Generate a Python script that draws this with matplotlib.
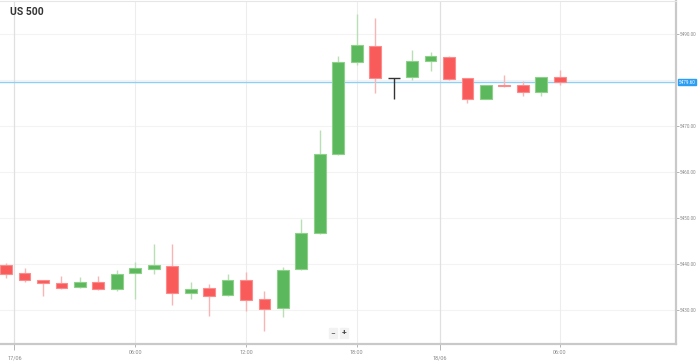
import matplotlib
matplotlib.use("Agg")
import matplotlib.pyplot as plt
import matplotlib.transforms as mtransforms

# ---- data (hourly candles, index 0 = 23:00 on 16/06) ----
opens  = [5439.8, 5437.9, 5436.4, 5435.7, 5434.9, 5436.1, 5434.4, 5437.9, 5438.9, 5439.6,
          5433.7, 5434.7, 5433.2, 5436.4, 5432.4, 5430.4, 5438.8, 5446.6, 5464.0, 5484.0,
          5487.5, 5480.4, 5480.7, 5484.2, 5485.0, 5480.5, 5476.0, 5479.0, 5479.0, 5477.5,
          5480.8]
highs  = [5440.2, 5439.0, 5436.5, 5437.4, 5437.2, 5437.4, 5438.6, 5440.3, 5444.3, 5444.2,
          5436.0, 5435.6, 5437.8, 5438.3, 5434.0, 5439.3, 5449.7, 5469.2, 5485.2, 5494.5,
          5493.7, 5480.5, 5486.6, 5486.1, 5485.4, 5480.5, 5478.9, 5481.2, 5479.8, 5480.7,
          5482.2]
lows   = [5436.9, 5436.0, 5433.0, 5434.4, 5434.7, 5434.3, 5434.0, 5432.4, 5437.8, 5431.0,
          5432.4, 5428.6, 5433.0, 5429.6, 5425.4, 5428.4, 5438.6, 5446.4, 5463.8, 5483.3,
          5477.2, 5475.9, 5480.0, 5482.0, 5480.0, 5475.0, 5475.9, 5478.6, 5476.6, 5476.5,
          5479.0]
closes = [5437.7, 5436.5, 5435.8, 5434.8, 5436.0, 5434.4, 5437.8, 5439.0, 5439.8, 5433.7,
          5434.5, 5433.0, 5436.4, 5432.2, 5430.2, 5438.7, 5446.6, 5464.0, 5483.9, 5487.7,
          5480.4, 5480.4, 5484.2, 5485.2, 5480.3, 5476.0, 5478.9, 5478.7, 5477.4, 5480.7,
          5479.6]
current_price = 5479.60

time_tick_pos = [7, 13, 19, 30]
time_tick_labels = ["06:00", "12:00", "18:00", "06:00"]
date_tick_pos = [0.45, 23.5]
date_tick_labels = ["17/06", "18/06"]
y_ticks = [5430, 5440, 5450, 5460, 5470, 5490]

GREEN = "#5cb85c"
GREEN_EDGE = "#8fd18b"
GREEN_WICK = "#b9e0b5"
RED = "#f95b5b"
RED_EDGE = "#fb8c8c"
RED_WICK = "#f9b4b4"

plt.rcParams["font.family"] = ["Roboto", "DejaVu Sans"]

fig = plt.figure(figsize=(6.99, 3.61), dpi=100)
ax = fig.add_axes([0.0, 17 / 361, 676 / 699, 343 / 361])

x = list(range(len(opens)))
width = 0.64
for i in x:
    o, h, l, c = opens[i], highs[i], lows[i], closes[i]
    if abs(c - o) < 0.05:
        ax.vlines(i, l, h, color="#333333", lw=1.0, zorder=3)
        ax.hlines(o, i - width / 2, i + width / 2, color="#333333", lw=1.0, zorder=3)
        continue
    up = c > o
    body_c = GREEN if up else RED
    edge_c = GREEN_EDGE if up else RED_EDGE
    wick_c = GREEN_WICK if up else RED_WICK
    ax.vlines(i, l, h, color=wick_c, lw=1.0, zorder=2)
    ax.bar(i, c - o, bottom=o, width=width, color=body_c, edgecolor=edge_c,
           linewidth=0.8, zorder=3)

# current price line
ax.axhline(current_price, color="#8ecff5", lw=1.0, zorder=1)

ax.set_xlim(-0.33, 36.3)
ax.set_ylim(5422.5, 5497.3)

# grid
for yt in y_ticks + [5480]:
    ax.axhline(yt, color="#f3f3f3", lw=0.8, zorder=0)
for xt in time_tick_pos:
    ax.axvline(xt, color="#ededed", lw=0.8, zorder=0)
for xt in date_tick_pos:
    ax.axvline(xt, color="#e0e0e0", lw=0.9, zorder=0)

# spines
ax.spines["left"].set_visible(False)
ax.spines["top"].set_color("#e6e6e6")
ax.spines["top"].set_linewidth(0.8)
for s in ["right", "bottom"]:
    ax.spines[s].set_color("#c9c9c9")
    ax.spines[s].set_linewidth(1.6)

# y axis on right
ax.yaxis.tick_right()
ax.set_yticks(y_ticks)
ax.set_yticklabels([f"{v:.2f}" for v in y_ticks])
ax.tick_params(axis="y", which="major", length=2.0, width=0.6, color="#aaaaaa",
               labelsize=3.3, labelcolor="#888888", pad=1.0)

# x axis ticks
ax.set_xticks(time_tick_pos)
ax.set_xticklabels(time_tick_labels)
ax.set_xticks(date_tick_pos, minor=True)
ax.set_xticklabels(date_tick_labels, minor=True)
ax.tick_params(axis="x", which="major", length=2.5, width=0.6, color="#aaaaaa",
               labelsize=4.0, labelcolor="#888888", pad=1.5)
ax.tick_params(axis="x", which="minor", length=4, width=0.6, color="#aaaaaa",
               labelsize=4.0, labelcolor="#888888", pad=4.0)

# current price label
trans = mtransforms.blended_transform_factory(ax.transAxes, ax.transData)
ax.text(1.004, current_price, f"{current_price:.2f}", transform=trans,
        fontsize=3.3, color="white", va="center", ha="left",
        bbox=dict(boxstyle="square,pad=0.15", fc="#2a9df4", ec="#2a9df4"), zorder=5)

# title
fig.text(10 / 699, 1 - 12 / 361, "US 500", fontsize=7.5, fontweight="bold",
         color="#333333", va="center", ha="left")

# zoom controls
fig.text(333 / 699, 1 - 333 / 361, "\u2212", fontsize=6, color="#444444", va="center",
         ha="center", bbox=dict(boxstyle="square,pad=0.2", fc="#f2f2f2", ec="#f2f2f2"))
fig.text(344 / 699, 1 - 333 / 361, "+", fontsize=6, color="#444444", va="center",
         ha="center", fontweight="bold",
         bbox=dict(boxstyle="square,pad=0.2", fc="#f2f2f2", ec="#f2f2f2"))

fig.savefig("out.png", dpi=100, facecolor="white")
